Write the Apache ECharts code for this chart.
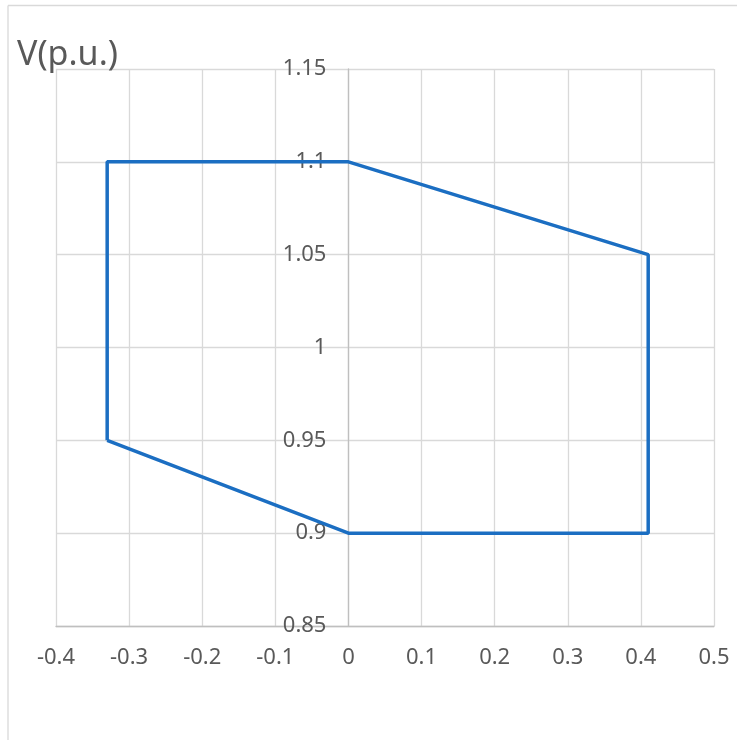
<!DOCTYPE html>
<html>
<head>
<meta charset="utf-8">
<script src="https://cdn.jsdelivr.net/npm/echarts@6/dist/echarts.min.js"></script>
<style>html,body{margin:0;padding:0;background:#fff;}#c{width:746px;height:740px;}</style>
</head>
<body>
<div id="c"></div>
<script>
var xValues = [-0.33, -0.33, 0, 0.41, 0.41, 0, -0.33];
var yValues = [0.95, 1.1, 1.1, 1.05, 0.9, 0.9, 0.95];
var yTitle = 'V(p.u.)';

var points = xValues.map(function (x, i) { return [x, yValues[i]]; });
var font = '"Noto Sans", "Open Sans", sans-serif';
var chart = echarts.init(document.getElementById('c'));
var option = {
  animation: false,
  backgroundColor: '#fff',
  title: {
    text: yTitle, left: 12, top: 33,
    textStyle: { fontFamily: font, fontSize: 34, fontWeight: 'normal', color: '#595959' }
  },
  graphic: [
    { type: 'line', shape: { x1: 8, y1: 5.5, x2: 737, y2: 5.5 }, style: { stroke: '#d9d9d9', lineWidth: 1.3 } },
    { type: 'line', shape: { x1: 8, y1: 5.5, x2: 8, y2: 740 }, style: { stroke: '#d9d9d9', lineWidth: 1.3 } }
  ],
  grid: { left: 56, right: 32, top: 69, bottom: 114, containLabel: false, outerBoundsMode: 'none' },
  xAxis: {
    type: 'value', min: -0.4, max: 0.5, interval: 0.1,
    axisLine: { show: true, onZero: false, lineStyle: { color: '#bfbfbf', width: 1.3 } },
    axisTick: { show: false },
    axisLabel: { margin: 21, fontFamily: font, fontSize: 22, color: '#595959',
      formatter: function (v) { return String(Math.round(v * 10) / 10); } },
    splitLine: { show: true, lineStyle: { color: '#d9d9d9', width: 1.3 } }
  },
  yAxis: {
    type: 'value', min: 0.85, max: 1.15, interval: 0.05, position: 'left', offset: 0,
    axisLine: { show: true, onZero: false, lineStyle: { color: '#bfbfbf', width: 1.3 } },
    axisTick: { show: false },
    axisLabel: { margin: 22, fontFamily: font, fontSize: 22, color: '#595959',
      formatter: function (v) { return String(Math.round(v * 100) / 100); } },
    splitLine: { show: true, lineStyle: { color: '#d9d9d9', width: 1.3 } }
  },
  series: [{
    type: 'line', data: points, showSymbol: false, symbol: 'none',
    lineStyle: { color: '#1b6ec2', width: 3.5 }, z: 3
  }]
};
chart.setOption(option);
var leftPx = chart.convertToPixel({ gridIndex: 0 }, [-0.4, 1])[0];
var zeroPx = chart.convertToPixel({ gridIndex: 0 }, [0, 1])[0];
chart.setOption({ yAxis: { offset: -(zeroPx - leftPx) } });
</script>
</body>
</html>
